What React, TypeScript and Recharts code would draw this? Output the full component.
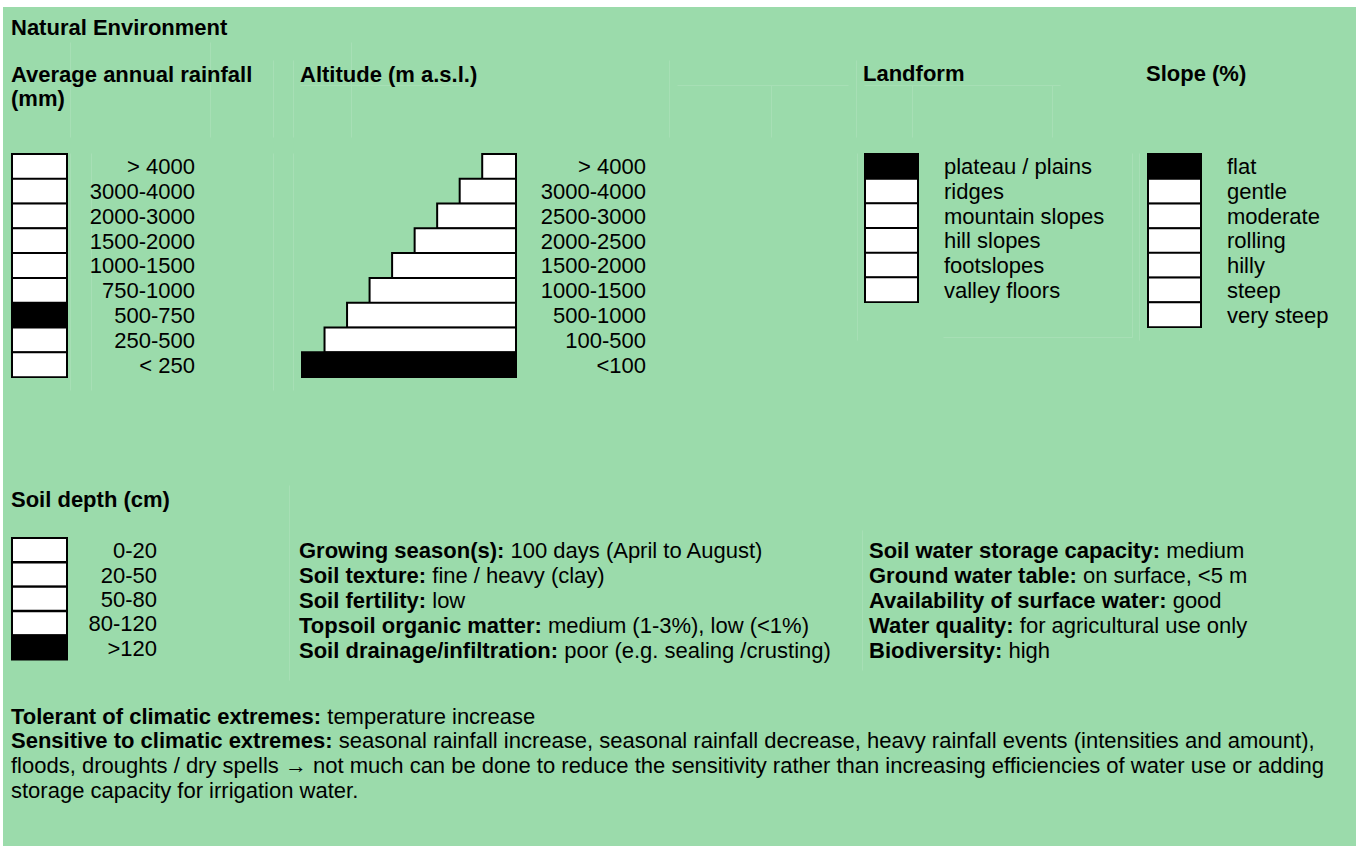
import { Bar, BarChart, Cell, XAxis, YAxis } from 'recharts';

const rainfallClasses = ['> 4000', '3000-4000', '2000-3000', '1500-2000', '1000-1500', '750-1000', '500-750', '250-500', '< 250'];
const rainfallSelected = '500-750';

const altitudeClasses = ['> 4000', '3000-4000', '2500-3000', '2000-2500', '1500-2000', '1000-1500', '500-1000', '100-500', '<100'];
const altitudeSteps = [1.5, 2.5, 3.5, 4.5, 5.5, 6.5, 7.5, 8.5, 9.5];
const altitudeSelected = '<100';

const landformClasses = ['plateau / plains', 'ridges', 'mountain slopes', 'hill slopes', 'footslopes', 'valley floors'];
const landformSelected = 'plateau / plains';

const slopeClasses = ['flat', 'gentle', 'moderate', 'rolling', 'hilly', 'steep', 'very steep'];
const slopeSelected = 'flat';

const soilDepthClasses = ['0-20', '20-50', '50-80', '80-120', '>120'];
const soilDepthSelected = '>120';

const soilFacts = [
  ['Growing season(s):', '100 days (April to August)'],
  ['Soil texture:', 'fine / heavy (clay)'],
  ['Soil fertility:', 'low'],
  ['Topsoil organic matter:', 'medium (1-3%), low (<1%)'],
  ['Soil drainage/infiltration:', 'poor (e.g. sealing /crusting)'],
];

const waterFacts = [
  ['Soil water storage capacity:', 'medium'],
  ['Ground water table:', 'on surface, <5 m'],
  ['Availability of surface water:', 'good'],
  ['Water quality:', 'for agricultural use only'],
  ['Biodiversity:', 'high'],
];

const climateLines = [
  ['Tolerant of climatic extremes:', 'temperature increase'],
  ['Sensitive to climatic extremes:', 'seasonal rainfall increase, seasonal rainfall decrease, heavy rainfall events (intensities and amount),'],
  ['', 'floods, droughts / dry spells \u2192 not much can be done to reduce the sensitivity rather than increasing efficiencies of water use or adding'],
  ['', 'storage capacity for irrigation water.'],
];

const FONT = '"Liberation Sans", Arial, sans-serif';
const TEXT_SIZE = 22;

// faint table cell borders left over in the original layout
const cellLines = [
  [70, 42, 70, 137], [70, 153, 70, 390], [91, 153, 91, 390], [210, 42, 210, 137],
  [273, 60, 273, 137], [273, 153, 273, 390], [293, 60, 293, 137], [293, 153, 293, 390],
  [351, 42, 351, 137], [300, 85, 460, 85], [677, 85, 848, 85], [669, 60, 669, 137],
  [771, 85, 771, 137], [856, 60, 856, 137], [864, 85, 1060, 85], [912, 85, 912, 137],
  [1052, 85, 1052, 137], [857, 153, 857, 340], [943, 337, 1132, 337], [1132, 153, 1132, 337],
  [1139, 153, 1139, 340], [862, 530, 862, 670], [289, 485, 289, 680],
];

type BoxProps = {
  classes: string[];
  values?: number[];
  selected: string;
  left: number;
  top: number;
  boxWidth: number;
  height: number;
  labelGap: number;
  anchor: 'start' | 'end';
  reversed?: boolean;
};

const ClassBoxes = ({ classes, values, selected, left, top, boxWidth, height, labelGap, anchor, reversed }: BoxProps) => {
  const data = classes.map((label, i) => ({ label, v: values ? values[i] : 1 }));
  const max = Math.max(...data.map(d => d.v));
  const axisW = 230;
  return (
    <div style={{ position: 'absolute', left, top }}>
      <BarChart
        width={boxWidth + axisW + 2}
        height={height}
        data={data}
        layout="vertical"
        barCategoryGap={0}
        margin={{ top: 1, right: 1, bottom: 1, left: 1 }}
      >
        <XAxis type="number" hide domain={[0, max]} reversed={reversed} />
        <YAxis
          type="category"
          dataKey="label"
          orientation="right"
          width={axisW}
          axisLine={false}
          tickLine={false}
          tickSize={0}
          tickMargin={0}
          interval={0}
          tick={(p: any) => (
            <text
              x={p.x + labelGap}
              y={p.y}
              dy="0.36em"
              textAnchor={anchor}
              fontFamily={FONT}
              fontSize={TEXT_SIZE}
              fill="#000"
            >
              {p.payload.value}
            </text>
          )}
        />
        <Bar dataKey="v" stroke="#000" strokeWidth={2} isAnimationActive={false}>
          {data.map(d => (
            <Cell key={d.label} fill={d.label === selected ? '#000' : '#fff'} />
          ))}
        </Bar>
      </BarChart>
    </div>
  );
};

const Fact = ({ x, y, bold, text }: { x: number; y: number; bold: string; text: string }) => (
  <text x={x} y={y} fontFamily={FONT} fontSize={TEXT_SIZE} fill="#000">
    {bold && <tspan fontWeight="bold">{bold} </tspan>}
    {text}
  </text>
);

export default function App() {
  return (
    <div style={{ position: 'absolute', left: 0, top: 0, width: 1356, height: 846, background: '#fff', overflow: 'hidden' }}>
      <div style={{ position: 'absolute', left: 3, top: 7, width: 1353, height: 839, background: '#9bdbab' }} />
      <svg width={1356} height={846} style={{ position: 'absolute', left: 0, top: 0 }}>
        {cellLines.map(([x1, y1, x2, y2], i) => (
          <line key={i} x1={x1 + 0.5} y1={y1 + 0.5} x2={x2 + 0.5} y2={y2 + 0.5} stroke="#a7dfb5" strokeWidth={1} />
        ))}
      </svg>

      <ClassBoxes classes={rainfallClasses} selected={rainfallSelected} left={11} top={153} boxWidth={55} height={225} labelGap={128} anchor="end" />
      <ClassBoxes classes={altitudeClasses} values={altitudeSteps} selected={altitudeSelected} left={301} top={153} boxWidth={214} height={225} labelGap={130} anchor="end" reversed />
      <ClassBoxes classes={landformClasses} selected={landformSelected} left={864} top={153} boxWidth={53} height={150} labelGap={26} anchor="start" />
      <ClassBoxes classes={slopeClasses} selected={slopeSelected} left={1147} top={153} boxWidth={53} height={175} labelGap={26} anchor="start" />
      <ClassBoxes classes={soilDepthClasses} selected={soilDepthSelected} left={11} top={537} boxWidth={55} height={124} labelGap={90} anchor="end" />

      <svg width={1356} height={846} style={{ position: 'absolute', left: 0, top: 0, pointerEvents: 'none' }}>
        <g fontFamily={FONT} fontWeight="bold" fontSize={22} fill="#000">
          <text x={11} y={35}>Natural Environment</text>
          <text x={11} y={82}>Average annual rainfall</text>
          <text x={11} y={106}>(mm)</text>
          <text x={300} y={82}>Altitude (m a.s.l.)</text>
          <text x={863} y={81}>Landform</text>
          <text x={1146} y={81}>Slope (%)</text>
          <text x={11} y={507}>Soil depth (cm)</text>
        </g>
        {soilFacts.map(([b, t], i) => (
          <Fact key={b} x={299} y={557.5 + i * 25} bold={b} text={t} />
        ))}
        {waterFacts.map(([b, t], i) => (
          <Fact key={b} x={869} y={557.5 + i * 25} bold={b} text={t} />
        ))}
        {climateLines.map(([b, t], i) => (
          <Fact key={i} x={11} y={[724, 748, 773, 798][i]} bold={b} text={t} />
        ))}
      </svg>
    </div>
  );
}
